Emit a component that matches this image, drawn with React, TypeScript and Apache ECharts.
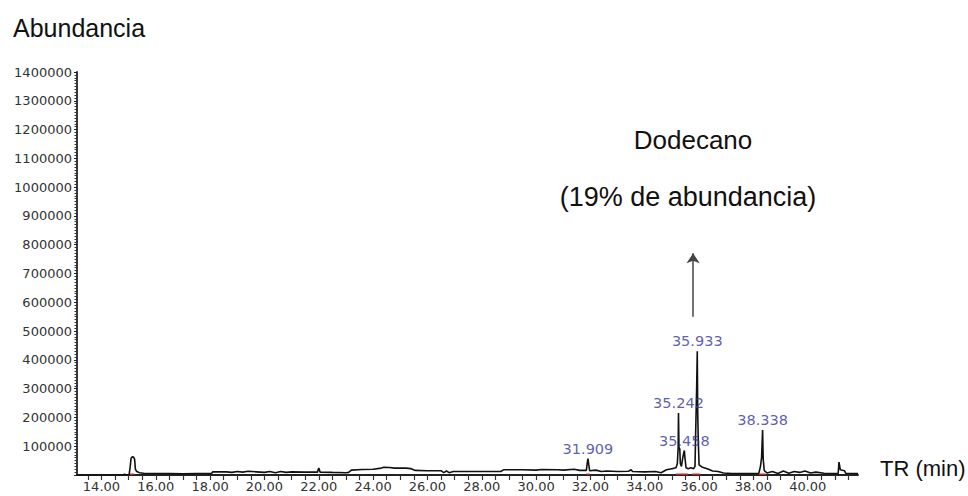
import React, { useEffect, useRef } from "react";
import * as echarts from "echarts";

// Retention time (min) and abundance of the chromatogram trace
const times = [
  13.1, 14.8, 14.85, 14.9, 15.02, 15.06, 15.09, 15.13, 15.18, 15.22, 15.25, 15.3, 15.4, 15.55,
  16.0, 16.5, 17.0, 17.5, 18.05, 18.1, 18.6, 18.8, 19.0, 19.2, 19.4, 19.7, 20.0, 20.2, 20.4,
  20.6, 20.8, 21.0, 21.5, 21.95, 22.0, 22.05, 22.5, 23.0, 23.1, 23.2, 23.6, 24.0, 24.3, 24.4,
  24.6, 24.8, 25.2, 25.4, 25.55, 26.0, 26.5, 26.6, 26.7, 26.8, 26.95, 27.5, 28.0, 28.7, 28.8,
  29.5, 30.0, 30.2, 30.8, 31.0, 31.4, 31.6, 31.85, 31.88, 31.91, 31.94, 31.97, 32.2, 32.4,
  32.6, 33.0, 33.4, 33.5, 33.55, 34.0, 34.4, 34.6, 34.8, 35.0, 35.15, 35.2, 35.23, 35.242,
  35.26, 35.29, 35.31, 35.35, 35.4, 35.43, 35.458, 35.48, 35.52, 35.6, 35.7, 35.8, 35.85,
  35.87, 35.89, 35.91, 35.933, 35.95, 35.97, 36.0, 36.1, 36.3, 36.5, 36.7, 36.9, 37.2, 37.8,
  38.2, 38.26, 38.3, 38.338, 38.36, 38.4, 38.5, 38.7, 38.9, 39.1, 39.3, 39.5, 39.7, 39.9,
  40.1, 40.3, 40.6, 41.0, 41.12, 41.15, 41.2, 41.35, 41.4, 41.85,
];
const abundance = [
  0, 0, 3000, 0, 2000, 30000, 58000, 63000, 62000, 55000, 20000, 12000, 8000, 6000,
  5000, 5000, 4500, 5000, 5000, 11000, 11000, 9000, 12000, 10000, 13000, 11000, 9000, 12000, 8000,
  12000, 9000, 11000, 10000, 10000, 24000, 10000, 9000, 8000, 9000, 17000, 19000, 20000, 24000, 27000,
  26000, 24000, 24000, 22000, 16000, 15000, 15000, 8000, 14000, 8000, 12000, 12000, 12000, 12000, 18000,
  18000, 17000, 19000, 18000, 17000, 20000, 16000, 16000, 40000, 57000, 35000, 15000, 17000, 12000,
  14000, 12000, 13000, 18000, 12000, 11000, 12000, 8000, 18000, 22000, 25000, 40000, 95000, 215000,
  95000, 90000, 40000, 30000, 60000, 75000, 85000, 60000, 25000, 22000, 25000, 22000, 30000,
  130000, 215000, 300000, 430000, 215000, 120000, 35000, 28000, 22000, 14000, 12000, 7000, 5000, 5000,
  6000, 30000, 60000, 156000, 55000, 15000, 7000, 12000, 5000, 14000, 6000, 12000, 9000, 14000,
  7000, 10000, 6000, 5000, 5000, 45000, 18000, 15000, 6000, 5000,
];

// Labelled peaks
const peakTimes = [31.909, 35.242, 35.458, 35.933, 38.338];
const peakValues = [57000, 215000, 85000, 430000, 156000];
const peakLabels = ["31.909", "35.242", "35.458", "35.933", "38.338"];

// Integration baseline marks (red)
const baseStart = [15.05, 31.85, 35.15, 35.75, 38.2];
const baseEnd = [15.2, 31.97, 35.6, 36.05, 38.45];
const baseLevel = 2500;

// Axis ticks
const xLabelValues = [14, 16, 18, 20, 22, 24, 26, 28, 30, 32, 34, 36, 38, 40];
const xTickValues = [
  13.5, 14, 14.5, 15, 15.5, 16, 16.5, 17, 17.5, 18, 18.5, 19, 19.5, 20, 20.5, 21, 21.5, 22,
  22.5, 23, 23.5, 24, 24.5, 25, 25.5, 26, 26.5, 27, 27.5, 28, 28.5, 29, 29.5, 30, 30.5, 31,
  31.5, 32, 32.5, 33, 33.5, 34, 34.5, 35, 35.5, 36, 36.5, 37, 37.5, 38, 38.5, 39, 39.5, 40,
  40.5, 41, 41.5,
];

// Dodecano arrow (data coordinates)
const arrowTime = 35.78;
const arrowFrom = 550000;
const arrowTo = 770000;

export default function App() {
  const ref = useRef<HTMLDivElement>(null);
  useEffect(() => {
    if (!ref.current) return;
    const chart = echarts.init(ref.current, undefined, { renderer: "svg" });
    const trace = times.map((t, i) => [t, abundance[i]]);
    const redData: any[] = [];
    baseStart.forEach((s, i) => {
      redData.push([s, baseLevel]);
      redData.push([baseEnd[i], baseLevel]);
      redData.push([null, null]);
    });
    const peaks = peakTimes.map((t, i) => ({ value: [t, peakValues[i]], name: peakLabels[i] }));
    chart.setOption({
      animation: false,
      grid: { left: 77, right: 110, top: 72, bottom: 21, containLabel: false },
      xAxis: {
        type: "value",
        min: 13.1,
        max: 41.85,
        axisLine: { show: true, lineStyle: { color: "#222", width: 1.8 } },
        axisTick: { show: true, length: 5, customValues: xTickValues, lineStyle: { color: "#333", width: 1.2 } },
        axisLabel: {
          customValues: xLabelValues,
          formatter: (v: number) => v.toFixed(2),
          color: "#333",
          fontFamily: "DejaVu Sans",
          fontSize: 13,
          margin: 5,
        },
        splitLine: { show: false },
      },
      yAxis: {
        type: "value",
        min: 0,
        max: 1400000,
        interval: 100000,
        axisLine: { show: true, lineStyle: { color: "#222", width: 1.8 } },
        axisTick: { show: true, length: 3, lineStyle: { color: "#222" } },
        minorTick: { show: true, splitNumber: 10, length: 2.5, lineStyle: { color: "#333" } },
        axisLabel: {
          formatter: (v: number) => (v === 0 ? "" : String(v)),
          color: "#333",
          fontFamily: "DejaVu Sans",
          fontSize: 13,
          margin: 5,
        },
        splitLine: { show: false },
      },
      series: [
        {
          type: "line",
          data: trace,
          symbol: "none",
          lineStyle: { color: "#111", width: 1.6 },
          z: 3,
          markLine: {
            silent: true,
            symbol: ["none", "arrow"],
            symbolSize: 10,
            label: { show: false },
            lineStyle: { color: "#444", width: 1.5, type: "solid" },
            data: [[{ coord: [arrowTime, arrowFrom] }, { coord: [arrowTime, arrowTo] }]],
          },
        },
        {
          type: "line",
          data: redData,
          symbol: "none",
          connectNulls: false,
          lineStyle: { color: "#d42020", width: 1.6 },
          z: 4,
        },
        {
          type: "scatter",
          data: peaks,
          symbolSize: 1,
          itemStyle: { color: "rgba(0,0,0,0)" },
          z: 5,
          label: {
            show: true,
            position: "top",
            distance: 2,
            formatter: (p: any) => p.name,
            color: "#34349a",
            fontFamily: "DejaVu Sans",
            fontSize: 14.5,
          },
        },
      ],
      graphic: [
        {
          type: "text",
          left: 13,
          top: 15,
          style: { text: "Abundancia", font: '25px "Liberation Sans", Arial', fill: "#111" },
        },
        {
          type: "text",
          x: 693,
          y: 140,
          style: { text: "Dodecano", font: '26px "Liberation Sans", Arial', fill: "#111", align: "center", verticalAlign: "middle" },
        },
        {
          type: "text",
          x: 688,
          y: 197,
          style: { text: "(19% de abundancia)", font: '27px "Liberation Sans", Arial', fill: "#111", align: "center", verticalAlign: "middle" },
        },
        {
          type: "text",
          x: 880,
          y: 468,
          style: { text: "TR (min)", font: '22px "Liberation Sans", Arial', fill: "#111", align: "left", verticalAlign: "middle" },
        },
      ],
    });
    return () => chart.dispose();
  }, []);
  return <div ref={ref} style={{ position: "fixed", left: 0, top: 0, width: 968, height: 496, background: "#fff" }} />;
}
